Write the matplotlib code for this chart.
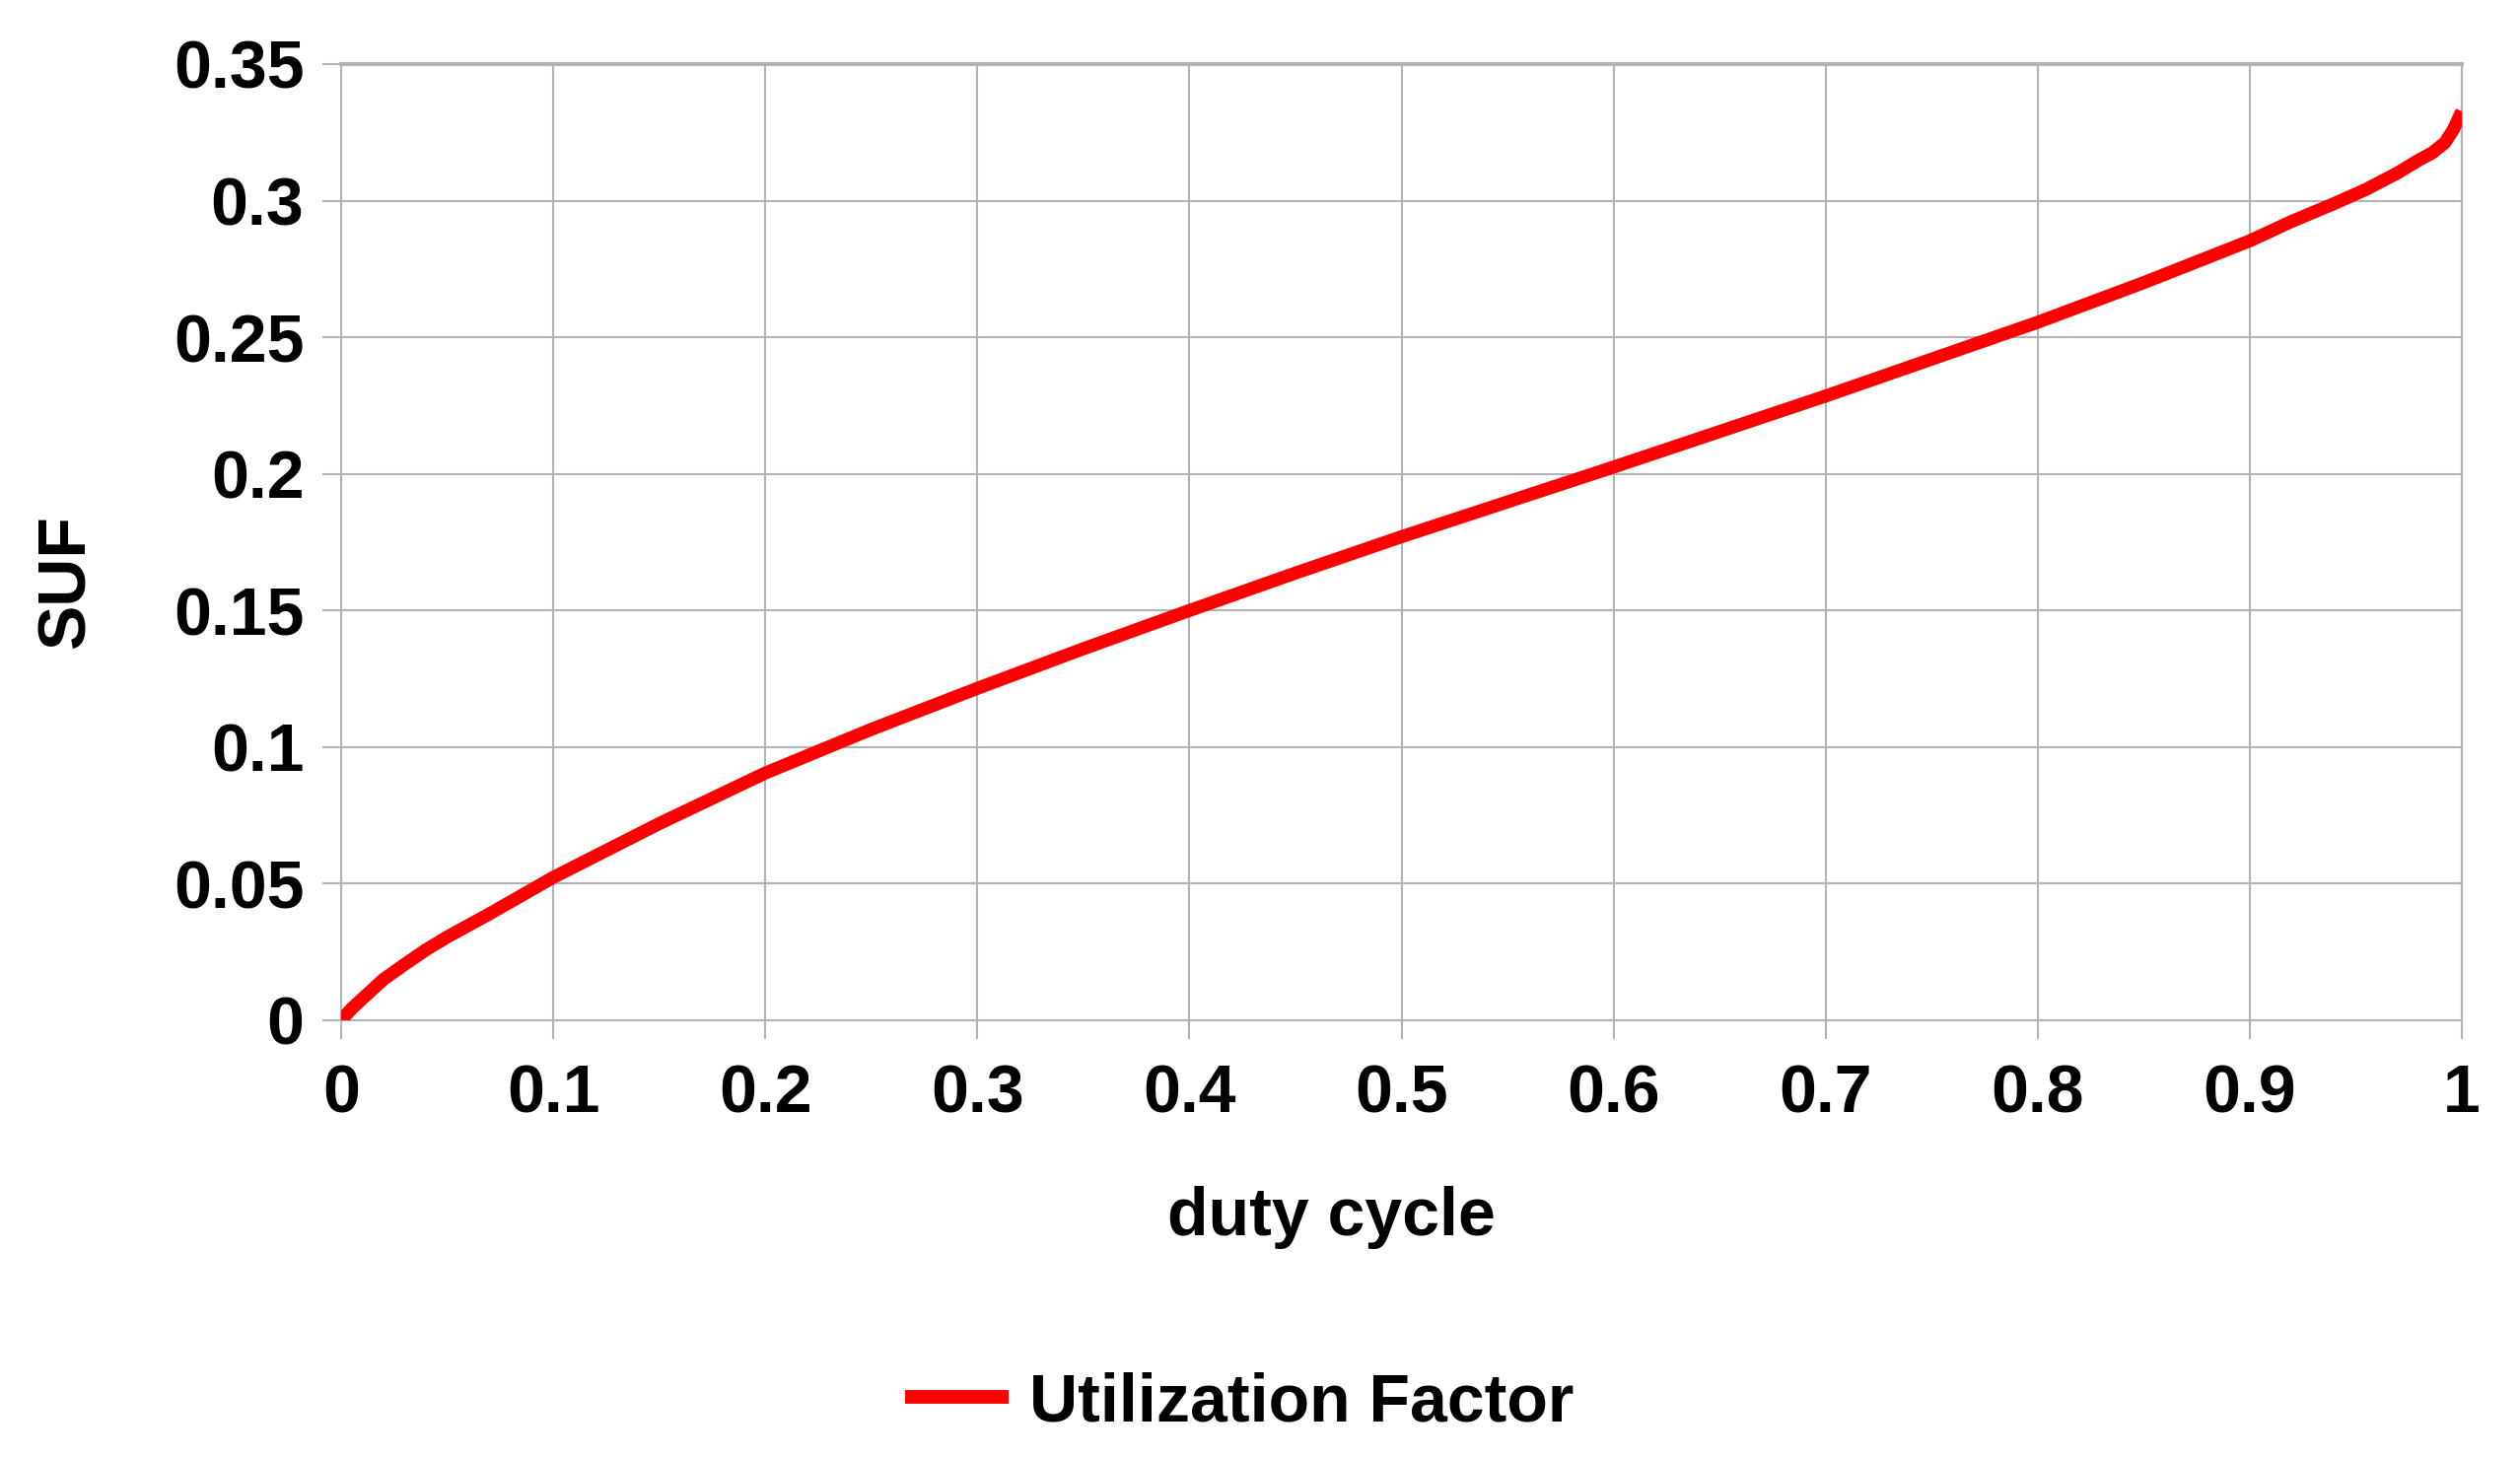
import matplotlib
matplotlib.use("Agg")
import matplotlib.pyplot as plt

# values
duty_cycle = [0, 0.005, 0.01, 0.02, 0.03, 0.04, 0.05, 0.07, 0.1, 0.15, 0.2, 0.25, 0.3, 0.35,
              0.4, 0.45, 0.5, 0.6, 0.7, 0.8, 0.85, 0.9, 0.92, 0.94, 0.955, 0.97, 0.98,
              0.986, 0.992, 0.996, 1.0]
suf = [0, 0.0043, 0.0079, 0.015, 0.0205, 0.0258, 0.0305, 0.039, 0.0523, 0.072, 0.0905, 0.1065,
       0.1215, 0.136, 0.150, 0.1637, 0.177, 0.2025, 0.2285, 0.2555, 0.270, 0.2853, 0.2925,
       0.299, 0.3042, 0.3103, 0.315, 0.3175, 0.3212, 0.326, 0.3327]

x_ticks = [0, 0.1, 0.2, 0.3, 0.4, 0.5, 0.6, 0.7, 0.8, 0.9, 1]
x_tick_labels = ["0", "0.1", "0.2", "0.3", "0.4", "0.5", "0.6", "0.7", "0.8", "0.9", "1"]
y_ticks = [0, 0.05, 0.1, 0.15, 0.2, 0.25, 0.3, 0.35]
y_tick_labels = ["0", "0.05", "0.1", "0.15", "0.2", "0.25", "0.3", "0.35"]

plt.rcParams['font.family'] = ['Liberation Sans', 'DejaVu Sans']
plt.rcParams['font.weight'] = 'bold'

grid_color = '#b3b3b3'
fsize = 49

fig = plt.figure(figsize=(25.56, 14.79), dpi=100)
ax = fig.add_axes([346/2556, 1-1035/1479, (2497-346)/2556, (1035-65)/1479])

line, = ax.plot(duty_cycle, suf, color='#ff0000', linewidth=9.5,
                solid_capstyle='butt', solid_joinstyle='round', zorder=3)

ax.set_xlim(0, 1)
ax.set_ylim(0, 0.35)
ax.set_xticks(x_ticks)
ax.set_xticklabels(x_tick_labels, fontsize=fsize, fontweight='bold')
ax.set_yticks(y_ticks)
ax.set_yticklabels(y_tick_labels, fontsize=fsize, fontweight='bold')
ax.tick_params(axis='both', length=14, width=1.5, color=grid_color)
ax.tick_params(axis='x', pad=17)
ax.tick_params(axis='y', pad=13)

ax.grid(True, color=grid_color, linewidth=1.5)
ax.set_axisbelow(True)
for s in ax.spines.values():
    s.set_color(grid_color)
    s.set_linewidth(1.5)
ax.spines['top'].set_linewidth(3)

fig.text(1350/2556, 1-1235/1479, "duty cycle", fontsize=fsize, fontweight='bold',
         ha='center', va='center')
fig.text(68/2556, 1-590/1479, "SUF", fontsize=fsize, fontweight='bold',
         ha='center', va='center', rotation=90)

leg = fig.legend([line], ["Utilization Factor"], loc='center',
                 bbox_to_anchor=(1257/2556, 1-1423/1479), frameon=False,
                 prop={'size': fsize, 'weight': 'bold'}, handlelength=1.55, handletextpad=0.3)
leg.get_lines()[0].set_linewidth(10)

fig.savefig("out.png", dpi=100, facecolor='white')
